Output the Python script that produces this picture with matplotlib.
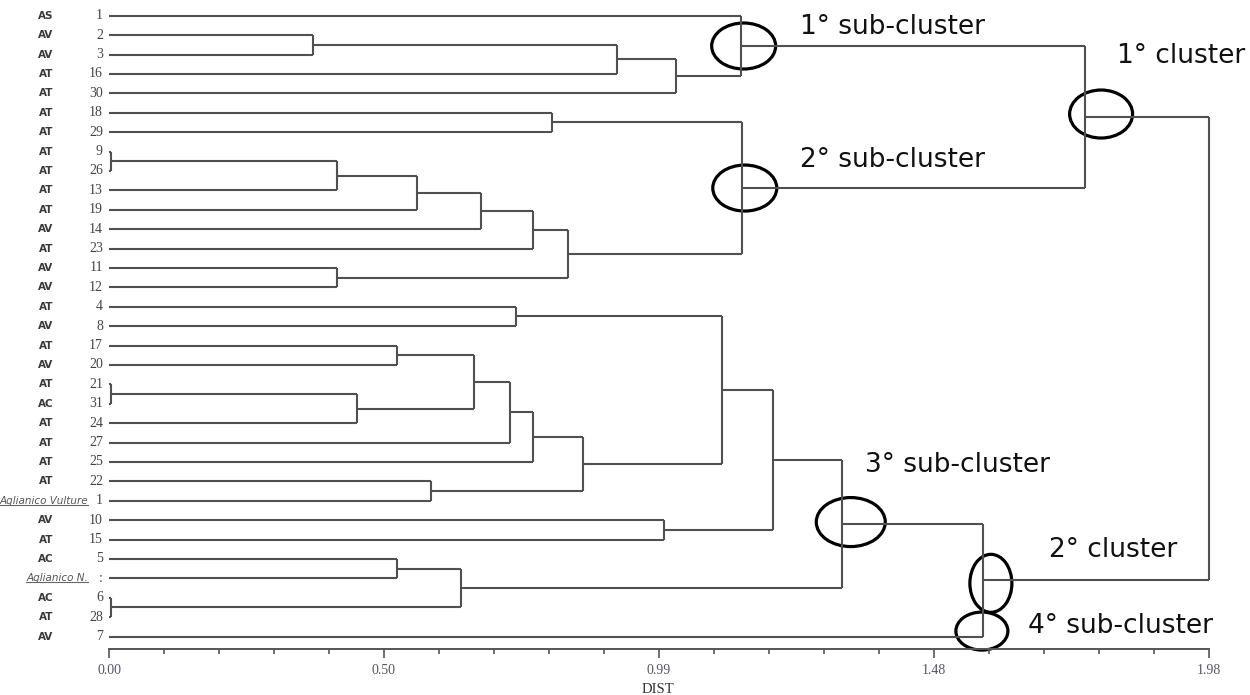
import matplotlib

matplotlib.use("Agg")

import numpy as np
import matplotlib.pyplot as plt
from matplotlib.patches import Ellipse
from matplotlib.transforms import Affine2D, ScaledTranslation, blended_transform_factory

# leaves, top to bottom
codes = ["AS", "AV", "AV", "AT", "AT", "AT", "AT", "AT", "AT", "AT", "AT",
         "AV", "AT", "AV", "AV", "AT", "AV", "AT", "AV", "AT", "AC", "AT",
         "AT", "AT", "AT", "Aglianico Vulture", "AV", "AT", "AC",
         "Aglianico N.", "AC", "AT", "AV"]
numbers = ["1", "2", "3", "16", "30", "18", "29", "9", "26", "13", "19",
           "14", "23", "11", "12", "4", "8", "17", "20", "21", "31", "24",
           "27", "25", "22", "1", "10", "15", "5", ":", "6", "28", "7"]

# merges, node ids continue after the leaves (33, 34, ...)
merge_left = [1, 33, 34, 0, 5, 7, 38, 39, 40, 41, 13, 42, 37, 36,
              15, 17, 19, 49, 48, 51, 52, 24, 53, 47, 26, 56, 28, 30, 59,
              58, 62, 46]
merge_right = [2, 3, 4, 35, 6, 8, 9, 10, 11, 12, 14, 43, 44, 45,
               16, 18, 20, 21, 50, 22, 23, 25, 54, 55, 27, 57, 29, 31, 60,
               61, 32, 63]
merge_height = [0.367, 0.914, 1.020, 1.137, 0.798, 0.003, 0.410, 0.554,
                0.670, 0.763, 0.410, 0.826, 1.139, 1.757,
                0.733, 0.518, 0.003, 0.447, 0.657, 0.722, 0.763, 0.579,
                0.853, 1.103, 0.999, 1.195, 0.518, 0.003, 0.634,
                1.319, 1.573, 1.980]

major_ticks = [0.0, 0.495, 0.99, 1.485, 1.98]
major_labels = ["0.00", "0.50", "0.99", "1.48", "1.98"]

# (node, text, label offset px, ellipse offset px, ellipse w, h px)
notes = [
    (36, "1° sub-cluster", (59, 12.5), (3, 0), 64, 46),
    (45, "2° sub-cluster", (58, 21), (3, 0), 64, 46),
    (46, "1° cluster", (32, 54), (16, 3), 63, 48),
    (62, "3° sub-cluster", (23, 52), (9, 2), 69, 49),
    (63, "2° cluster", (66, 23), (8, -3), 42, 58),
]
leaf_note = (32, "4° sub-cluster", (45, 3.5), (-1, 5.5), 52, 38)

n = len(codes)
ypos = {i: float(i) for i in range(n)}
hgt = {i: 0.0 for i in range(n)}

fig = plt.figure(figsize=(12.5, 6.95), dpi=100)
ax = fig.add_axes([109 / 1250, 46 / 695, 1100 / 1250, 649 / 695])
ax.set_xlim(0, 1.98)
ax.set_ylim(32.64, -0.809)

line_kw = dict(color="#505050", lw=1.5, clip_on=False, solid_capstyle="butt")
for k, (a, b, h) in enumerate(zip(merge_left, merge_right, merge_height)):
    node = n + k
    ax.plot([hgt[a], h], [ypos[a], ypos[a]], **line_kw)
    ax.plot([hgt[b], h], [ypos[b], ypos[b]], **line_kw)
    ax.plot([h, h], [ypos[a], ypos[b]], **line_kw)
    ypos[node] = (ypos[a] + ypos[b]) / 2
    hgt[node] = h

# leaf labels
tr = blended_transform_factory(fig.transFigure, ax.transData)
under = []
for i in range(n):
    ax.text(103 / 1250, ypos[i], numbers[i], transform=tr, ha="right",
            va="center", fontsize=10, family="Liberation Serif", color="#444444")
    if " " in codes[i]:
        t = ax.text(88 / 1250, ypos[i], codes[i], transform=tr, ha="right",
                    va="center", fontsize=7.5, color="#555555", style="italic")
        under.append(t)
    else:
        ax.text(46 / 1250, ypos[i], codes[i], transform=tr, ha="center",
                va="center", fontsize=7.5, fontweight="bold", color="#3a3a3a")

# axis
for s in ["left", "top", "right"]:
    ax.spines[s].set_visible(False)
ax.spines["bottom"].set_color("#555555")
ax.spines["bottom"].set_linewidth(1.4)
ax.set_yticks([])
ax.set_xticks(major_ticks, labels=major_labels)
ax.set_xticks(np.linspace(0, 1.98, 21), minor=True)
ax.tick_params(axis="x", which="major", direction="out", length=6.5, width=1.2,
               color="#555555", pad=4, labelsize=10, labelcolor="#55556a")
ax.tick_params(axis="x", which="minor", direction="out", length=3.6, width=1.2,
               color="#555555")
for lab in ax.get_xticklabels():
    lab.set_family("Liberation Serif")
fig.text(658 / 1250, 1 - 693 / 695, "DIST", ha="center", va="baseline",
         fontsize=10.5, family="Liberation Serif", color="#333333")


def mark(x, y, text, toff, eoff, w, h):
    ax.annotate(text, xy=(x, y), xytext=toff, textcoords="offset pixels",
                ha="left", va="baseline", fontsize=19, color="#111111",
                family="DejaVu Sans", annotation_clip=False)
    trans = Affine2D().translate(*eoff) + ScaledTranslation(x, y, ax.transData)
    ax.add_patch(Ellipse((0, 0), w, h, transform=trans, fill=False,
                         ec="black", lw=2.3, clip_on=False))


for node, text, toff, eoff, w, h in notes:
    mark(hgt[node], ypos[node], text, toff, eoff, w, h)
leaf, text, toff, eoff, w, h = leaf_note
mark(hgt[63], ypos[leaf], text, toff, eoff, w, h)

# underline the two named cultivars
fig.canvas.draw()
inv = fig.transFigure.inverted()
for t in under:
    bb = t.get_window_extent()
    (x0, y0), (x1, _) = inv.transform([(bb.x0, bb.y0 + 1), (bb.x1, bb.y0)])
    fig.add_artist(plt.Line2D([x0, x1], [y0, y0], color="#666666", lw=0.8))

fig.savefig("out.png", dpi=100)
